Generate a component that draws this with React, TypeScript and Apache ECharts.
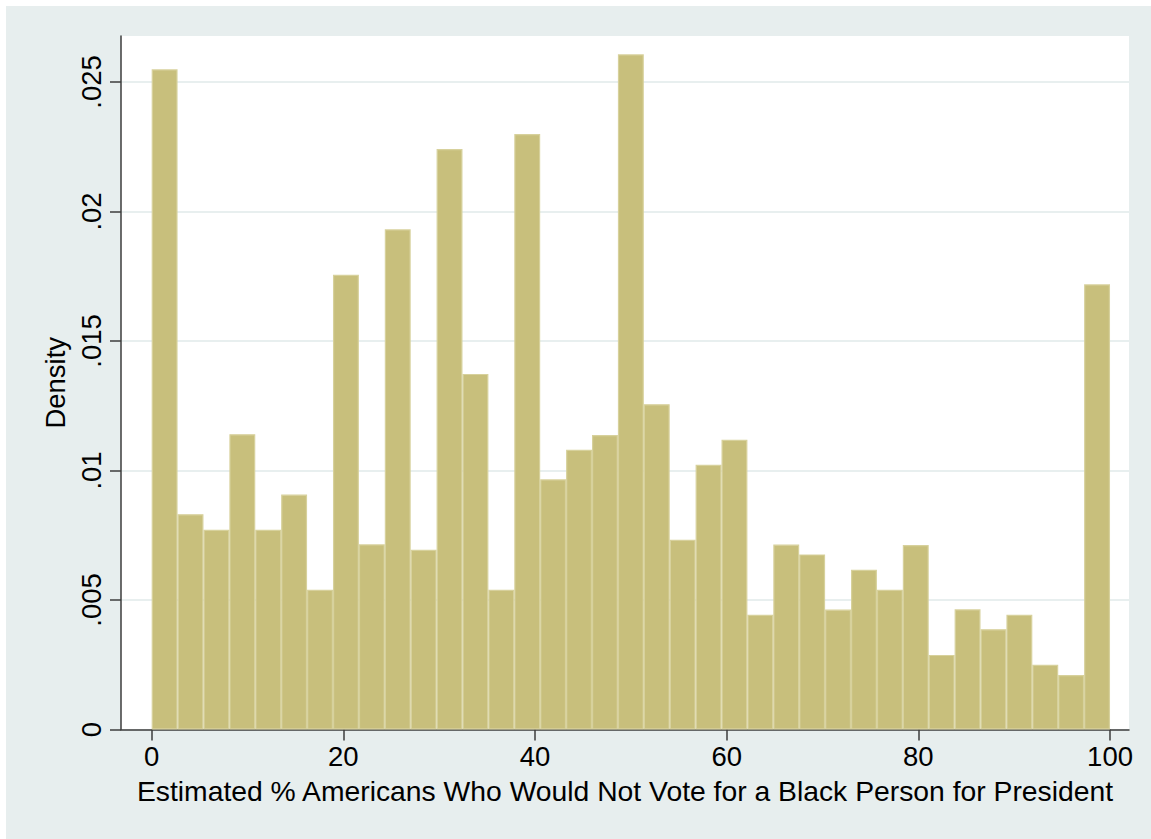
import React, { useEffect, useRef } from 'react';
import * as echarts from 'echarts';

// ---- data ----
const binCount = 37;
const binStart = 0;
const binEnd = 100;
const densities = [
  0.02549, 0.00831, 0.00771, 0.0114, 0.00771, 0.00907, 0.0054, 0.01756, 0.00715, 0.01931,
  0.00694, 0.02241, 0.01373, 0.0054, 0.02299, 0.00966, 0.0108, 0.01137, 0.02607, 0.01256,
  0.00733, 0.01022, 0.01119, 0.00443, 0.00714, 0.00676, 0.00463, 0.00617, 0.0054, 0.00712,
  0.00288, 0.00464, 0.00387, 0.00443, 0.0025, 0.0021, 0.01719,
];
const xTicks = [0, 20, 40, 60, 80, 100];
const yTicks = [0, 0.005, 0.01, 0.015, 0.02, 0.025];
const yTickLabels = ['0', '.005', '.01', '.015', '.02', '.025'];
const xTitle = 'Estimated % Americans Who Would Not Vote for a Black Person for President';
const yTitle = 'Density';

const FONT = '"Liberation Sans", Arial, Helvetica, sans-serif';
const AXIS_COLOR = '#3c3c3c';

export default function App() {
  const ref = useRef<HTMLDivElement>(null);

  useEffect(() => {
    if (!ref.current) return;
    const chart = echarts.init(ref.current, undefined, { renderer: 'svg' });
    const w = (binEnd - binStart) / binCount;
    const bins = densities.map((d, i) => [binStart + i * w, binStart + (i + 1) * w, d]);

    chart.setOption({
      animation: false,
      backgroundColor: 'transparent',
      grid: {
        left: 121,
        top: 36,
        width: 1008,
        height: 693.5,
        show: true,
        backgroundColor: '#ffffff',
        borderWidth: 0,
        containLabel: false,
        outerBoundsMode: 'none',
      },
      xAxis: {
        type: 'value',
        min: -3.2,
        max: 101.98,
        name: xTitle,
        nameLocation: 'middle',
        nameGap: 47,
        nameTextStyle: { fontSize: 28.3, color: '#000', fontFamily: FONT },
        axisLine: { show: true, onZero: false, lineStyle: { color: AXIS_COLOR, width: 1.5 } },
        axisTick: { show: true, customValues: xTicks, length: 11, lineStyle: { color: AXIS_COLOR, width: 1.5 } },
        axisLabel: {
          customValues: xTicks,
          fontSize: 27.5,
          color: '#000',
          fontFamily: FONT,
          margin: 13,
        },
        splitLine: { show: false },
      },
      yAxis: {
        type: 'value',
        min: 0,
        max: 0.026776,
        interval: 0.005,
        name: yTitle,
        nameLocation: 'middle',
        nameRotate: 90,
        nameGap: 50,
        nameTextStyle: { fontSize: 27.5, color: '#000', fontFamily: FONT },
        axisLine: { show: true, onZero: false, lineStyle: { color: AXIS_COLOR, width: 1.5 } },
        axisTick: { show: true, customValues: yTicks, length: 11, lineStyle: { color: AXIS_COLOR, width: 1.5 } },
        axisLabel: {
          customValues: yTicks,
          rotate: 90,
          fontSize: 27.5,
          color: '#000',
          fontFamily: FONT,
          margin: 16,
          formatter: (v: number) => {
            const idx = yTicks.findIndex((t) => Math.abs(t - v) < 1e-9);
            return idx >= 0 ? yTickLabels[idx] : '';
          },
        },
        splitLine: { show: true, lineStyle: { color: '#e1eaea', width: 1.6 } },
      },
      series: [
        {
          type: 'custom',
          data: bins,
          encode: { x: [0, 1], y: 2 },
          renderItem: (_params: any, api: any) => {
            const x0 = api.value(0);
            const x1 = api.value(1);
            const h = api.value(2);
            const p0 = api.coord([x0, 0]);
            const p1 = api.coord([x1, h]);
            return {
              type: 'rect',
              shape: {
                x: p0[0] + 0.6,
                y: p1[1] + 0.6,
                width: p1[0] - p0[0] - 1.2,
                height: p0[1] - p1[1] - 1.2,
              },
              style: { fill: '#c8bf7c', stroke: '#d7d19c', lineWidth: 1.2 },
            };
          },
        },
      ],
    });
    return () => chart.dispose();
  }, []);

  return (
    <div style={{ position: 'fixed', left: 0, top: 0, width: 1151, height: 839, background: '#ffffff' }}>
      <div style={{ position: 'absolute', left: 6, top: 6, width: 1145, height: 833, background: '#e7eeee' }} />
      <div ref={ref} style={{ position: 'absolute', left: 0, top: 0, width: 1151, height: 839 }} />
    </div>
  );
}
